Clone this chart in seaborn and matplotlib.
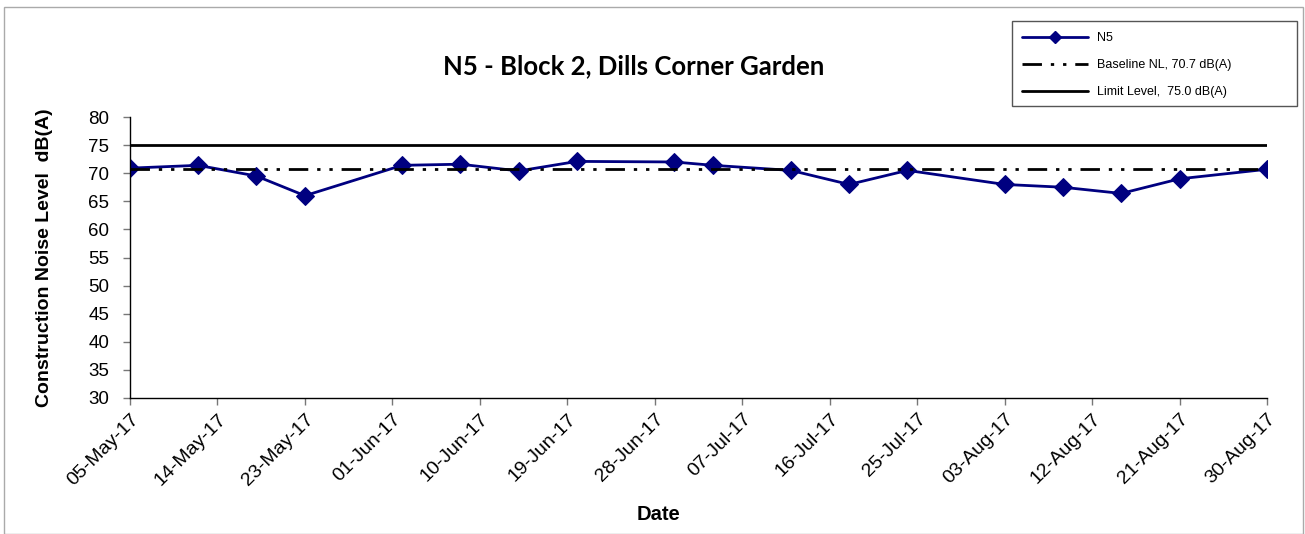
import pandas as pd
import seaborn as sns
import matplotlib.pyplot as plt
import matplotlib.dates as mdates
from matplotlib.lines import Line2D
from matplotlib.patches import Rectangle

# -------------------------------
# data
# -------------------------------
dates = ['2017-05-05', '2017-05-12', '2017-05-18', '2017-05-23', '2017-06-02',
         '2017-06-08', '2017-06-14', '2017-06-20', '2017-06-30', '2017-07-04',
         '2017-07-12', '2017-07-18', '2017-07-24', '2017-08-03', '2017-08-09',
         '2017-08-15', '2017-08-21', '2017-08-30']
n5_levels = [70.9, 71.4, 69.5, 66.0, 71.4,
             71.6, 70.4, 72.1, 72.0, 71.4,
             70.5, 68.0, 70.5, 68.0, 67.5,
             66.4, 69.0, 70.7]
baseline_nl = 70.7
limit_level = 75.0
tick_dates = pd.date_range('2017-05-05', '2017-08-30', freq='9D')

df = pd.DataFrame({'Date': pd.to_datetime(dates), 'Level': n5_levels})

sns.set_style('white')
plt.rcParams['font.family'] = ['Liberation Sans', 'DejaVu Sans']
plt.rcParams['text.color'] = 'black'
plt.rcParams['xtick.color'] = 'black'
plt.rcParams['ytick.color'] = 'black'

W, H = 1305, 534
fig = plt.figure(figsize=(W / 100, H / 100), dpi=100)
ax = fig.add_axes([130 / W, 1 - 398 / H, 1137 / W, 281 / H])

navy = '#000080'
base_dash = (7, 3.2, 1.2, 3.2, 1.2, 3.2)
sns.lineplot(data=df, x='Date', y='Level', ax=ax, color=navy, lw=2,
             marker='D', markersize=9, markeredgecolor=navy)
ax.axhline(baseline_nl, color='black', lw=2, dashes=base_dash)
ax.axhline(limit_level, color='black', lw=2)

ax.set_xlim(tick_dates[0], tick_dates[-1])
ax.set_ylim(30, 80)
ax.set_yticks(range(30, 81, 5))
ax.set_xticks(tick_dates)
ax.xaxis.set_major_formatter(mdates.DateFormatter('%d-%b-%y'))
plt.setp(ax.get_xticklabels(), rotation=45, ha='right', rotation_mode='anchor')
ax.tick_params(axis='both', direction='out', length=5,
               width=1, color='#777777', bottom=True, left=True,
               labelcolor='black')
ax.tick_params(axis='y', pad=10, labelsize=13.5)
ax.tick_params(axis='x', pad=4, labelsize=14)

for s in ['top', 'right']:
    ax.spines[s].set_visible(False)
for s in ['left', 'bottom']:
    ax.spines[s].set_color('black')
    ax.spines[s].set_linewidth(1)

ax.set_xlabel('')
ax.set_ylabel('')
fig.text(659 / W, 1 - 514 / H, 'Date', ha='center', va='center',
         fontsize=14.5, fontweight='bold')
fig.text(45 / W, 1 - 258 / H, 'Construction Noise Level  dB(A)',
         ha='center', va='center', rotation=90, fontsize=14, fontweight='bold')
fig.text(634 / W, 1 - 66 / H, 'N5 - Block 2, Dills Corner Garden',
         ha='center', va='center', fontsize=18.5, fontweight='bold',
         family=['Lato', 'DejaVu Sans'])

# legend (frame drawn separately so it can be wider than its text)
handles = [
    Line2D([], [], color=navy, lw=2, marker='D', markersize=6),
    Line2D([], [], color='black', lw=2, dashes=base_dash),
    Line2D([], [], color='black', lw=2),
]
labels = ['N5', 'Baseline NL, 70.7 dB(A)', 'Limit Level,  75.0 dB(A)']
fig.legend(handles, labels, loc='upper left',
           bbox_to_anchor=(1022 / W, 1 - 32 / H),
           fontsize=9, frameon=False, borderpad=0, borderaxespad=0,
           handlelength=5.3, labelspacing=1.2, handletextpad=0.7)
fig.patches.append(Rectangle((1012 / W, 1 - 106 / H), 285 / W, 85 / H,
                             transform=fig.transFigure, fill=False,
                             edgecolor='#555555', lw=1))

# outer chart border
fig.patches.append(Rectangle((4 / W, 0), 1299 / W, 1 - 7 / H,
                             transform=fig.transFigure, fill=False,
                             edgecolor='#aaaaaa', lw=1))

fig.savefig('out.png', dpi=100)
